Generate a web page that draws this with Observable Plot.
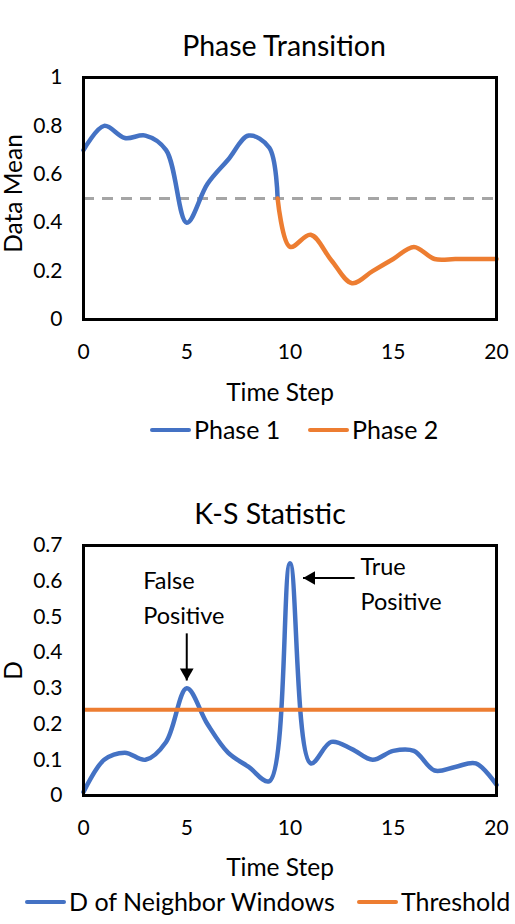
<!DOCTYPE html>
<html>
<head>
<meta charset="utf-8">
<script src="https://cdn.jsdelivr.net/npm/d3@7"></script>
<script src="https://cdn.jsdelivr.net/npm/@observablehq/plot@0.6"></script>
<style>
  html, body { margin: 0; padding: 0; background: white; }
  body { width: 515px; height: 924px; position: relative; overflow: hidden; font-family: Lato, sans-serif; color: #000; }
  .title { font-size: 28.5px; line-height: 28px; white-space: nowrap; transform: translateX(-50%); }
  .leg { position: absolute; display: flex; align-items: center; font-size: 25px; line-height: 25px; white-space: nowrap; }
  .sw { display: inline-block; width: 41px; height: 4px; border-radius: 2px; margin-right: 3px; }
</style>
</head>
<body>
<script>
// ---------- Data ----------
const timeTicks = [0, 5, 10, 15, 20];
const meanTicks = [0, 0.2, 0.4, 0.6, 0.8, 1];
const dTicks = [0, 0.1, 0.2, 0.3, 0.4, 0.5, 0.6, 0.7];

const phase1Time = [0, 1, 2, 3, 4, 5, 6, 7, 8, 9, 9.4];
const phase1Mean = [0.70, 0.80, 0.75, 0.76, 0.70, 0.40, 0.56, 0.66, 0.76, 0.71, 0.50];
const phase2Time = [9.4, 10, 11, 12, 13, 14, 15, 16, 17, 18, 19, 20];
const phase2Mean = [0.50, 0.30, 0.35, 0.245, 0.15, 0.20, 0.25, 0.30, 0.25, 0.25, 0.25, 0.25];
const meanReference = [0.5];

const dTime = [0, 1, 2, 3, 4, 5, 6, 7, 8, 9, 10, 11, 12, 13, 14, 15, 16, 17, 18, 19, 20];
const dValues = [0.01, 0.10, 0.12, 0.10, 0.15, 0.30, 0.20, 0.12, 0.08, 0.04, 0.65, 0.09, 0.15, 0.13, 0.10, 0.125, 0.125, 0.07, 0.08, 0.09, 0.03];
const threshold = [0.24];

// annotations (data coordinates)
const noteLabels = ["False\nPositive", "True\nPositive"];
const noteX = [2.89, 13.41];
const noteY = [0.56, 0.60];
const arrowFrom = [[5, 0.454], [13.13, 0.609]];
const arrowTip = [[5, 0.322], [10.63, 0.609]];

const BLUE = "#4472C4", ORANGE = "#ED7D31", GREY = "#A5A5A5";

const phase1 = phase1Time.map((t, i) => ({t, v: phase1Mean[i]}));
const phase2 = phase2Time.map((t, i) => ({t, v: phase2Mean[i]}));
const dData = dTime.map((t, i) => ({t, v: dValues[i]}));

const baseStyle = {fontFamily: "Lato, sans-serif", fontSize: "21px", color: "black", background: "white", overflow: "visible"};
const fmt = d => String(d);

function place(el, top, left) {
  el.style.position = "absolute";
  el.style.top = top + "px";
  el.style.left = (left || 0) + "px";
  document.body.appendChild(el);
}
function div(cls, html, top, left) {
  const e = document.createElement("div");
  e.className = cls;
  e.innerHTML = html;
  place(e, top, left);
  return e;
}

// ---------- Chart 1 ----------
div("title", "Phase Transition", 31, 284);

const chart1 = Plot.plot({
  width: 515, height: 348,
  marginTop: 15, marginBottom: 91, marginLeft: 83, marginRight: 19,
  style: baseStyle,
  x: {domain: [0, 20]},
  y: {domain: [0, 1]},
  marks: [
    Plot.ruleY(meanReference, {stroke: GREY, strokeWidth: 3, strokeDasharray: "11,8"}),
    Plot.line(phase1, {x: "t", y: "v", stroke: BLUE, strokeWidth: 4.5, curve: "catmull-rom", strokeLinecap: "round"}),
    Plot.line(phase2, {x: "t", y: "v", stroke: ORANGE, strokeWidth: 4.5, curve: "catmull-rom", strokeLinecap: "round"}),
    Plot.axisX({ticks: timeTicks, tickSize: 0, tickPadding: 25, tickFormat: fmt, label: null, fontSize: 21}),
    Plot.axisY({ticks: meanTicks, tickSize: 0, tickPadding: 21, tickFormat: fmt, label: null, fontSize: 21}),
    Plot.text(["Time Step"], {frameAnchor: "bottom", lineAnchor: "middle", textAnchor: "middle", dy: 74, dx: -10, fontSize: 24.5}),
    Plot.text(["Data Mean"], {frameAnchor: "left", lineAnchor: "middle", textAnchor: "middle", dx: -69, dy: -5, rotate: -90, fontSize: 24.5}),
    Plot.frame({stroke: "black", strokeWidth: 3})
  ]
});
place(chart1, 62, 0);

div("leg", `<span class="sw" style="background:${BLUE}"></span>Phase 1`, 417, 150);
div("leg", `<span class="sw" style="background:${ORANGE}"></span>Phase 2`, 417, 308);

// ---------- Chart 2 ----------
div("title", "K-S Statistic", 499, 270);

const arrows = arrowFrom.map((f, i) => ({x1: f[0], y1: f[1], x2: arrowTip[i][0], y2: arrowTip[i][1]}));
const notes = noteLabels.map((s, i) => ({s, x: noteX[i], y: noteY[i]}));

const chart2 = Plot.plot({
  width: 515, height: 355,
  marginTop: 15, marginBottom: 90, marginLeft: 83, marginRight: 19,
  style: baseStyle,
  x: {domain: [0, 20]},
  y: {domain: [0, 0.7]},
  marks: [
    Plot.line(dData, {x: "t", y: "v", stroke: BLUE, strokeWidth: 4.5, curve: "catmull-rom", strokeLinecap: "round"}),
    Plot.ruleY(threshold, {stroke: ORANGE, strokeWidth: 4}),
    Plot.link(arrows, {x1: "x1", y1: "y1", x2: "x2", y2: "y2", stroke: "black", strokeWidth: 2}),
    Plot.dot([arrows[0]], {x: "x2", y: "y2", symbol: "triangle", r: 5.1, fill: "black", stroke: null, rotate: 180, dy: -8}),
    Plot.dot([arrows[1]], {x: "x2", y: "y2", symbol: "triangle", r: 5.1, fill: "black", stroke: null, rotate: -90, dx: 8}),
    Plot.text(notes, {x: "x", y: "y", text: "s", textAnchor: "start", lineHeight: 1.5, fontSize: 23.5}),
    Plot.axisX({ticks: timeTicks, tickSize: 0, tickPadding: 25, tickFormat: fmt, label: null, fontSize: 21}),
    Plot.axisY({ticks: dTicks, tickSize: 0, tickPadding: 21, tickFormat: fmt, label: null, fontSize: 21}),
    Plot.text(["Time Step"], {frameAnchor: "bottom", lineAnchor: "middle", textAnchor: "middle", dy: 73, dx: -10, fontSize: 24.5}),
    Plot.text(["D"], {frameAnchor: "left", lineAnchor: "middle", textAnchor: "middle", dx: -69, rotate: -90, fontSize: 24.5}),
    Plot.frame({stroke: "black", strokeWidth: 3})
  ]
});
place(chart2, 530, 0);

div("leg", `<span class="sw" style="background:${BLUE}"></span>D of Neighbor Windows`, 889, 25);
div("leg", `<span class="sw" style="background:${ORANGE}"></span>Threshold`, 889, 357);
</script>
</body>
</html>
